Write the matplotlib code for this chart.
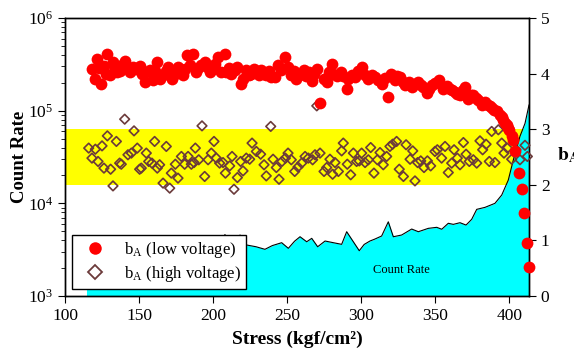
import matplotlib
matplotlib.use('Agg')
import matplotlib.pyplot as plt
from matplotlib.lines import Line2D
from matplotlib.patches import Rectangle
from matplotlib.transforms import blended_transform_factory
from matplotlib.ticker import LogLocator, NullFormatter, FixedLocator

plt.rcParams['font.family'] = ['Liberation Serif', 'DejaVu Serif']
plt.rcParams['mathtext.fontset'] = 'stix'

# ---------------- data ----------------
count_x = [114.5, 120, 126, 132, 138, 144, 150, 156, 162, 168, 174, 180, 186, 192,
           198, 204, 208, 212, 218.2, 222.7, 229, 235.0, 240, 246.3, 250.8, 255,
           258.7, 263.2, 266.6, 270.6, 275.6, 281.2, 286.8, 290.2, 298.7, 302,
           305.9, 309, 313.8, 318.3, 321.7, 327.3, 334.1, 338.6, 345.3, 351.0,
           354.4, 358.8, 362.2, 366.7, 370.8, 374.6, 378.0, 383.6, 390.3, 394.9,
           399.3, 402.7, 407.2, 410.6, 413.3]
count_rate = [2700, 2900, 2750, 3100, 2900, 3300, 3000, 3200, 3400, 3100, 3500, 3300,
              3600, 3400, 3900, 3500, 4600, 3600, 4550, 3550, 3400, 3190, 3500, 3760,
              3270, 3900, 4360, 3850, 4190, 3400, 3920, 3760, 3610, 4940, 3080, 3600,
              3920, 4100, 4440, 6320, 4360, 4550, 5280, 4940, 5370, 5510, 5250, 6090,
              5930, 6180, 5830, 6720, 8610, 9050, 10000, 12300, 17800, 29300, 52900,
              72800, 115000]

low_x = [118.2, 120.0, 121.8, 123.0, 124.5, 126.3, 127.5, 128.6, 130.2, 132.4, 134.0,
         135.3, 136.9, 138.5, 140.3, 142.0, 143.7, 145.9, 148.0, 150.4, 152.0, 153.8,
         154.9, 157.2, 159.4, 161.0, 162.3, 163.9, 166.2, 168.0, 169.5, 171.0, 172.5,
         174.0, 176.3, 178.0, 179.7, 181.0, 182.6, 184.5, 186.4, 188.7, 190.0, 191.6,
         194.3, 196.0, 197.7, 199.9, 201.5, 203.3, 205.6, 207.8, 209.0, 210.5, 212.3,
         214.5, 216.4, 218.6, 220.2, 222.4, 224.0, 225.8, 227.5, 229.2, 231.0, 232.6,
         234.5, 236.0, 238.0, 239.3, 241.6, 243.8, 246.1, 248.3, 250.6, 252.8, 254.5,
         256.2, 258.0, 259.6, 261.5, 263.0, 264.8, 266.6, 268.3, 269.9, 272.2, 274.9,
         276.7, 278.5, 280.5, 281.2, 283.5, 286.1, 288.0, 290.2, 291.3, 293.5, 295.8,
         298.0, 300.3, 302.5, 304.8, 307.0, 309.3, 311.5, 313.8, 316.0, 318.3, 319.9,
         322.8, 324.5, 326.2, 328.0, 329.6, 332.0, 334.1, 336.5, 338.6, 340.5, 342.0,
         344.2, 346.0, 347.6, 350.0, 352.8, 355.5, 357.8, 360.0, 361.5, 363.3, 365.0,
         366.7, 368.5, 370.1, 372.3, 374.0, 375.7, 377.5, 379.1, 381.3, 383.6, 385.8,
         387.0, 388.1, 389.8, 391.5, 393.7, 395.0, 396.0, 397.2, 398.2, 399.2, 400.0,
         401.6, 402.7, 403.9, 406.8, 408.4, 410.1, 411.7, 413.3]
low_b = [4.09, 3.90, 4.27, 4.10, 3.82, 4.14, 4.00, 4.35, 3.97, 4.21, 4.10,
         4.02, 4.05, 4.15, 4.23, 4.12, 4.03, 4.12, 4.08, 4.14, 4.00, 3.85,
         4.03, 4.06, 3.88, 4.05, 4.20, 3.91, 3.97, 4.05, 4.12, 4.02, 3.90,
         4.00, 4.11, 4.05, 3.97, 4.08, 4.33, 4.15, 4.36, 4.03, 4.10, 4.15,
         4.20, 4.12, 4.03, 4.09, 4.18, 4.30, 4.03, 4.36, 4.02, 4.10, 4.00,
         4.06, 4.12, 3.82, 3.90, 4.06, 3.98, 4.00, 4.08, 4.03, 3.98, 4.06,
         4.00, 3.97, 4.05, 3.94, 3.93, 4.15, 4.06, 4.30, 4.12, 3.97, 4.05,
         3.90, 3.98, 4.00, 4.06, 3.95, 4.02, 3.87, 4.00, 4.09, 3.48, 3.91,
         3.85, 4.02, 4.18, 4.00, 3.95, 4.03, 3.96, 3.73, 3.91, 3.98, 3.94,
         4.05, 4.11, 3.98, 3.91, 3.98, 3.94, 3.88, 3.82, 3.92, 3.58, 4.00,
         3.88, 3.95, 3.94, 3.85, 3.79, 3.84, 3.76, 3.82, 3.85, 3.80, 3.76,
         3.66, 3.72, 3.79, 3.83, 3.88, 3.73, 3.78, 3.73, 3.70, 3.67, 3.64,
         3.61, 3.70, 3.76, 3.55, 3.62, 3.61, 3.57, 3.53, 3.44, 3.49, 3.44,
         3.42, 3.38, 3.35, 3.32, 3.26, 3.22, 3.17, 3.12, 3.08, 3.03, 2.99,
         2.87, 2.81, 2.60, 2.22, 1.92, 1.49, 0.96, 0.52]

high_x = [116.0, 118.2, 120.5, 122.3, 125.0, 126.3, 128.6, 130.8, 132.4, 134.7, 136.9,
          138.0, 140.3, 142.5, 144.8, 146.6, 148.8, 150.4, 151.5, 154.9, 156.5, 158.7,
          160.5, 162.3, 163.9, 166.2, 168.4, 170.7, 171.8, 174.5, 176.3, 178.6, 180.8,
          183.1, 185.3, 187.1, 188.0, 190.3, 192.5, 194.3, 196.6, 198.8, 200.6, 202.2,
          204.4, 206.7, 208.3, 211.2, 212.8, 214.1, 216.4, 218.6, 220.2, 222.4, 224.7,
          226.3, 229.2, 232.1, 234.4, 235.9, 238.9, 240.5, 242.7, 244.5, 246.5, 248.8,
          250.6, 252.8, 255.1, 257.3, 259.8, 262.1, 264.3, 267.2, 268.8, 270.0, 272.2,
          274.9, 276.7, 278.9, 280.7, 282.3, 284.6, 286.8, 287.9, 290.6, 292.9, 294.7,
          296.9, 298.7, 300.3, 302.6, 304.8, 306.4, 308.6, 310.9, 312.7, 314.9, 317.2,
          319.4, 321.2, 323.9, 325.7, 328.5, 330.3, 333.0, 334.8, 336.3, 338.1, 340.2,
          342.4, 344.7, 346.9, 349.8, 351.4, 354.3, 356.6, 358.8, 361.1, 362.7, 364.9,
          366.7, 369.0, 370.8, 373.0, 375.7, 378.0, 380.2, 382.0, 384.3, 386.5, 388.1,
          390.3, 392.6, 394.9, 396.4, 398.7, 401.6, 404.5, 407.2, 410.6, 412.2]
high_b = [2.66, 2.48, 2.64, 2.42, 2.70, 2.30, 2.88, 2.28, 1.98, 2.78, 2.39,
          2.37, 3.18, 2.54, 2.57, 2.97, 2.66, 2.28, 2.30, 2.57, 2.42, 2.39,
          2.78, 2.30, 2.36, 2.03, 2.69, 1.94, 2.21, 2.37, 2.12, 2.51, 2.37,
          2.51, 2.37, 2.40, 2.66, 2.45, 3.06, 2.15, 2.45, 2.57, 2.78, 2.48,
          2.39, 2.40, 2.21, 2.34, 2.51, 1.92, 2.13, 2.42, 2.25, 2.48, 2.46,
          2.75, 2.60, 2.55, 2.36, 2.16, 3.05, 2.46, 2.31, 2.10, 2.42, 2.48,
          2.57, 2.45, 2.24, 2.32, 2.39, 2.51, 2.48, 2.45, 2.54, 3.42, 2.57,
          2.24, 2.31, 2.46, 2.19, 2.40, 2.24, 2.61, 2.75, 2.37, 2.18, 2.57,
          2.42, 2.43, 2.57, 2.40, 2.45, 2.67, 2.21, 2.45, 2.58, 2.36, 2.51,
          2.69, 2.73, 2.78, 2.28, 2.15, 2.72, 2.46, 2.61, 2.07, 2.40, 2.43,
          2.31, 2.43, 2.34, 2.60, 2.63, 2.48, 2.69, 2.22, 2.39, 2.63, 2.48,
          2.36, 2.76, 2.55, 2.42, 2.45, 2.39, 2.79, 2.63, 2.73, 2.42, 2.96,
          2.40, 2.99, 2.75, 2.57, 2.66, 2.46, 2.63, 2.45, 2.71, 2.51]

band = [2.0, 3.0]
x_ticks = [100, 150, 200, 250, 300, 350, 400]
b_ticks = [0, 1, 2, 3, 4, 5]
x_range = [100, 413.3]
count_range = [1e3, 1e6]
b_range = [0, 5]

# ---------------- figure ----------------
fig = plt.figure(figsize=(5.74, 3.52), dpi=100)
ax = fig.add_axes([65/574, 1-296/352, 464/574, 278/352])
ax2 = ax.twinx()

ax.set_yscale('log')
trans = blended_transform_factory(ax.transAxes, ax2.transData)
ax.add_patch(Rectangle((0, band[0]), 1, band[1]-band[0], transform=trans,
                       facecolor='#FFFF00', edgecolor='none', zorder=0))
ax.fill_between(count_x, count_range[0], count_rate, color='#00FFFF', lw=0, zorder=1)
ax.plot(count_x, count_rate, color='black', lw=0.8, zorder=2)
ax.text(327, 1900, 'Count Rate', fontsize=9, ha='center', va='center', zorder=3)

ax.set_xlim(*x_range)
ax.set_ylim(*count_range)
ax2.set_ylim(*b_range)

ax2.scatter(high_x, high_b, marker='D', s=24, facecolors='none',
            edgecolors='#6B3A3A', linewidths=1.2, zorder=3, clip_on=False)
ax2.scatter(low_x, low_b, marker='o', s=72, color='#FF0000', linewidths=0,
            zorder=4, clip_on=False)

ax.set_xticks(x_ticks)
ax.yaxis.set_major_locator(LogLocator(base=10, numticks=10))
ax.yaxis.set_minor_locator(LogLocator(base=10, subs=range(2, 10), numticks=10))
ax.yaxis.set_minor_formatter(NullFormatter())
ax2.set_yticks(b_ticks)
ax2.yaxis.set_minor_locator(FixedLocator([]))

ax.tick_params(axis='both', which='major', direction='out', labelsize=12.5, length=5)
ax.tick_params(axis='y', which='minor', direction='out', length=3)
ax.tick_params(axis='x', which='both', top=False)
ax2.tick_params(axis='y', direction='out', labelsize=12.5, length=5)

for a in (ax, ax2):
    for s in a.spines.values():
        s.set_linewidth(1.0)
        s.set_color('black')

ax.set_xlabel('Stress (kgf/cm²)', fontsize=14, fontweight='bold', labelpad=5)
ax.set_ylabel('Count Rate', fontsize=13.5, fontweight='bold', labelpad=0)
fig.text(557/574, 1-155/352, r'$\mathbf{b_A}$', fontsize=14, ha='left', va='center')

handles = [Line2D([], [], ls='none', marker='o', markersize=9, color='#FF0000', mew=0),
           Line2D([], [], ls='none', marker='D', markersize=7, mfc='none',
                  mec='#6B3A3A', mew=1.3)]
labels = [r'b$_\mathregular{A}$ (low voltage)', r'b$_\mathregular{A}$ (high voltage)']
leg = ax2.legend(handles, labels, loc='lower left', bbox_to_anchor=(0.015, 0.025),
                 fontsize=12, frameon=True, fancybox=False, framealpha=1,
                 edgecolor='black', borderpad=0.3, labelspacing=0.25,
                 handlelength=2.2, handletextpad=0.6, borderaxespad=0)
leg.get_frame().set_linewidth(1.0)
leg.set_zorder(10)

fig.savefig('out.png', dpi=100)
